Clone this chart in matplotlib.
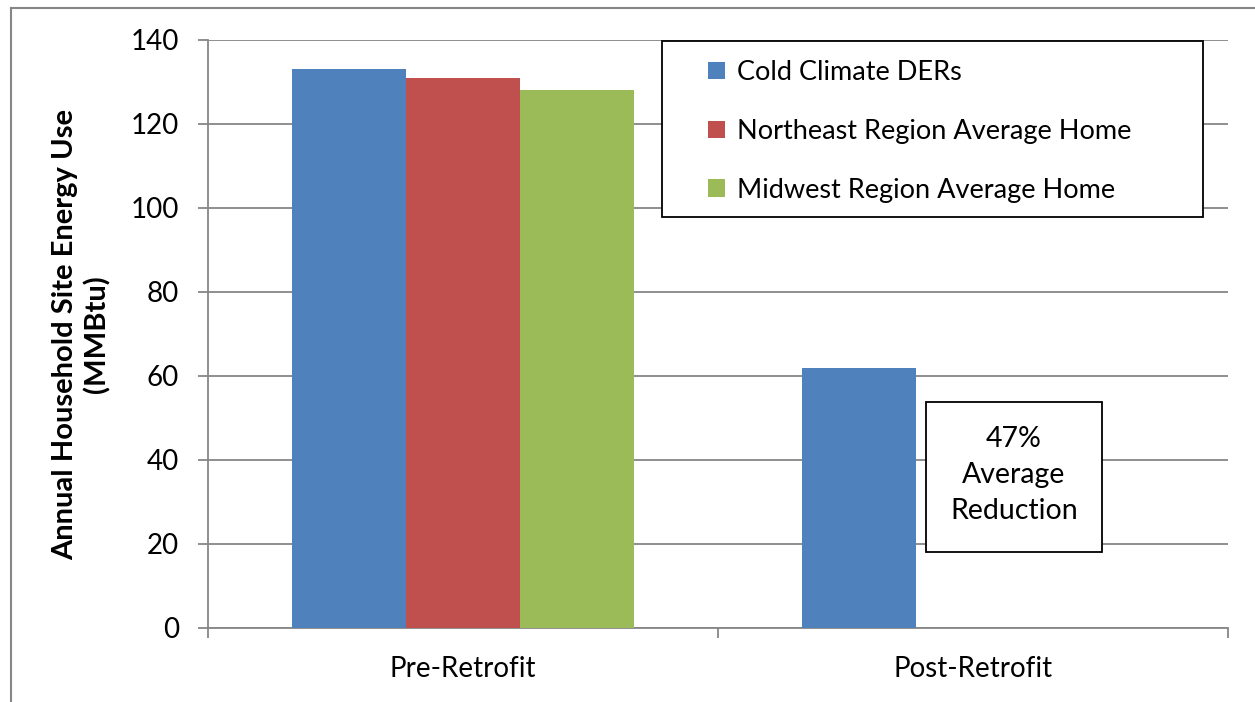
import numpy as np
import matplotlib
matplotlib.use('Agg')
import matplotlib.pyplot as plt
from matplotlib.lines import Line2D
from matplotlib.patches import Rectangle

# data
categories = ['Pre-Retrofit', 'Post-Retrofit']
series_names = ['Cold Climate DERs', 'Northeast Region Average Home', 'Midwest Region Average Home']
cold_climate = [133, 62]
northeast = [131, np.nan]
midwest = [128, np.nan]
yticks = [0, 20, 40, 60, 80, 100, 120, 140]
note_text = '47%\nAverage\nReduction'

colors = ['#4F81BD', '#C0504D', '#9BBB59']
grid_col = '#868686'

plt.rcParams['font.family'] = ['Lato', 'DejaVu Sans']

W, H = 1255, 702
fig = plt.figure(figsize=(W / 100, H / 100), dpi=100)
ax = fig.add_axes([208 / W, 1 - 628 / H, (1228 - 208) / W, (628 - 40) / H])

def px(xp, yp):
    # pixel position (from top-left) -> figure fraction
    return xp / W, 1 - yp / H

# outer chart frame (left and top visible)
fig.add_artist(Line2D([10.5 / W, 10.5 / W], [0, 1 - 7.5 / H], transform=fig.transFigure,
                      color=grid_col, lw=1.5))
fig.add_artist(Line2D([10.5 / W, 1], [1 - 7.5 / H, 1 - 7.5 / H], transform=fig.transFigure,
                      color=grid_col, lw=1.5))

x = np.arange(len(categories))
bw = 0.2235
for i, (vals, name) in enumerate(zip([cold_climate, northeast, midwest], series_names)):
    ax.bar(x + (i - 1) * bw, vals, width=bw, color=colors[i], label=name, zorder=3)

ax.set_xlim(-0.5, 1.5)
ax.set_ylim(0, 140)
ax.set_yticks(yticks)
ax.yaxis.grid(True, color=grid_col, lw=1.3, zorder=0)
ax.set_axisbelow(True)
for s in ['top', 'right']:
    ax.spines[s].set_visible(False)
for s in ['left', 'bottom']:
    ax.spines[s].set_color(grid_col)
    ax.spines[s].set_linewidth(1.3)

ax.tick_params(axis='y', length=7, width=1.3, color=grid_col, labelsize=20, pad=14)
ax.set_xticks(x)
ax.set_xticklabels(categories)
ax.set_xticks([-0.5, 0.5, 1.5], minor=True)
ax.tick_params(axis='x', which='major', length=0, labelsize=20, pad=20)
ax.tick_params(axis='x', which='minor', length=7, width=1.3, color=grid_col)

fig.text(*px(81, 334), 'Annual Household Site Energy Use\n(MMBtu)', rotation=90,
         ha='center', va='center', multialignment='center', fontsize=21, fontweight='bold',
         linespacing=1.25)

# legend box
x0, y0 = px(662, 217)
fig.add_artist(Rectangle((x0, y0), (1203 - 662) / W, (217 - 41) / H,
                         transform=fig.transFigure, facecolor='white', edgecolor='black',
                         lw=1.3, zorder=5))
leg = fig.legend(loc='upper left', bbox_to_anchor=px(708, 60), frameon=False,
                 fontsize=19.5, handlelength=0.62, handleheight=0.62, handletextpad=0.45,
                 borderpad=0, borderaxespad=0, labelspacing=1.25)
leg.set_zorder(6)

# note box
x0, y0 = px(926, 552)
fig.add_artist(Rectangle((x0, y0), (1102 - 926) / W, (552 - 402) / H,
                         transform=fig.transFigure, facecolor='white', edgecolor='black',
                         lw=1.3, zorder=5))
fig.text(*px(1014, 475), note_text, ha='center', va='center', fontsize=20.5,
         linespacing=1.48, zorder=6)

fig.savefig('out.png', dpi=100)
